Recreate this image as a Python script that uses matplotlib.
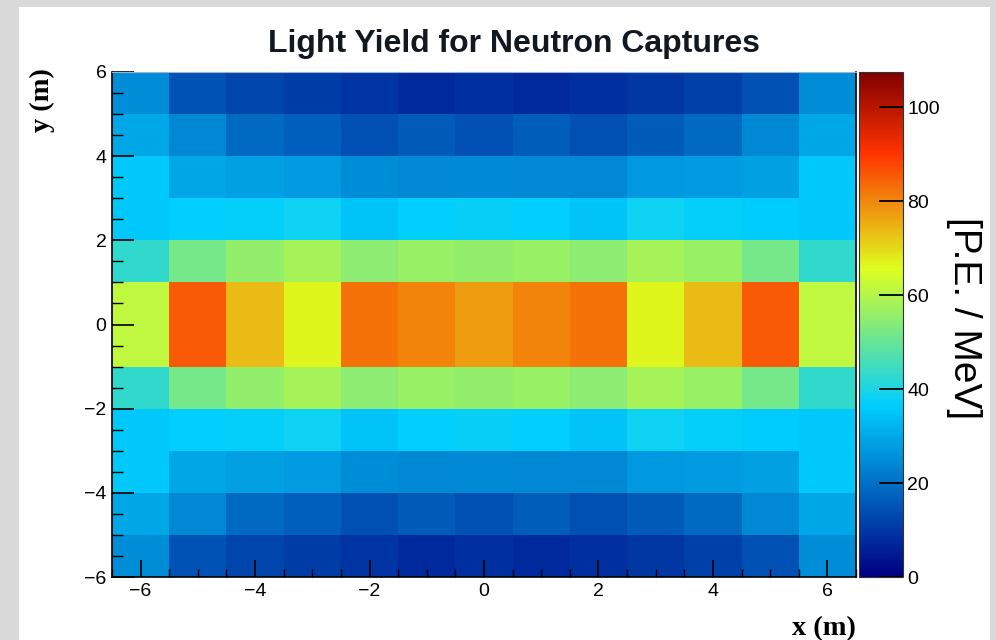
import numpy as np
import matplotlib
matplotlib.use("Agg")
import matplotlib.pyplot as plt
from matplotlib.colors import LinearSegmentedColormap
from matplotlib.patches import Rectangle
from matplotlib.ticker import MultipleLocator

# bin edges (m)
x_edges = [-6.5, -5.5, -4.5, -3.5, -2.5, -1.5, -0.5, 0.5, 1.5, 2.5, 3.5, 4.5, 5.5, 6.5]
y_edges = [6, 5, 4, 3, 2, 1, -1, -2, -3, -4, -5, -6]

# light yield [P.E. / MeV], rows from top (y=6) to bottom (y=-6)
row_5_6 = [25, 15, 12.5, 10.5, 9.5, 7.5, 8.5, 7.5, 8.5, 10, 11.5, 14.5, 25]
row_4_5 = [29.5, 24, 18.5, 17, 14, 16, 14.5, 16.5, 14, 16, 18.5, 24, 29.5]
row_3_4 = [35.5, 29.5, 28.5, 27.5, 25, 24, 24.5, 24, 24, 27, 27.5, 28.5, 35.5]
row_2_3 = [35.5, 36.8, 37, 38.5, 34.5, 36.8, 37.5, 36.8, 34.5, 38.5, 37, 36, 35.5]
row_1_2 = [43, 52, 55.5, 58, 55, 56.5, 55.5, 56.5, 55, 58, 56.5, 52, 43]
row_m1_1 = [61.5, 85.5, 73.5, 66.5, 82.5, 80.5, 77.5, 80.5, 82.5, 66.5, 73.5, 85.5, 61.5]
row_m2_m1 = [43, 52, 55.5, 58, 55, 56.5, 55.5, 56.5, 55, 58, 56.5, 52, 43]
row_m3_m2 = [35.5, 36.8, 37, 38.5, 34.5, 36.8, 37.5, 36.8, 34.5, 38.5, 37, 36, 35.5]
row_m4_m3 = [35.5, 29.5, 28.5, 27.5, 25, 24, 24.5, 24, 24, 27, 27.5, 28.5, 35.5]
row_m5_m4 = [29.5, 24, 18.5, 17, 14, 16, 14.5, 16.5, 14, 16, 18.5, 24, 29.5]
row_m6_m5 = [25, 15, 12.5, 10.5, 9.5, 7.5, 8.5, 7.5, 8.5, 10, 11.5, 14.5, 25]

z_max = 107.5
cbar_ticks = [0, 20, 40, 60, 80, 100]

rows = [row_5_6, row_4_5, row_3_4, row_2_3, row_1_2, row_m1_1,
        row_m2_m1, row_m3_m2, row_m4_m3, row_m5_m4, row_m6_m5]

# ROOT style gradient palette
stops = [0.00, 0.34, 0.61, 0.84, 1.00]
red = [0.00, 0.00, 0.87, 1.00, 0.51]
green = [0.00, 0.81, 1.00, 0.20, 0.00]
blue = [0.51, 1.00, 0.12, 0.00, 0.00]
cmap = LinearSegmentedColormap.from_list(
    "root", [(s, (r, g, b)) for s, r, g, b in zip(stops, red, green, blue)])

W, H = 996, 640
fig = plt.figure(figsize=(W / 100, H / 100), dpi=100, facecolor="#d9d9d9")
fig.patches.append(Rectangle((19 / W, 0), (990 - 19) / W, (H - 7) / H,
                             transform=fig.transFigure, facecolor="white",
                             edgecolor="none", zorder=-10))

ax = fig.add_axes([112 / W, 1 - 577 / H, (856 - 112) / W, (577 - 72) / H])
mesh = ax.pcolormesh(x_edges, y_edges, np.array(rows), cmap=cmap, vmin=0, vmax=z_max)
ax.set_xlim(-6.5, 6.5)
ax.set_ylim(-6, 6)

ax.xaxis.set_major_locator(MultipleLocator(2))
ax.xaxis.set_minor_locator(MultipleLocator(0.5))
ax.yaxis.set_major_locator(MultipleLocator(2))
ax.yaxis.set_minor_locator(MultipleLocator(0.5))
ax.tick_params(axis="x", which="major", direction="in", length=12, width=1.2,
               labelsize=14, pad=4, top=False)
ax.tick_params(axis="x", which="minor", direction="in", length=5.8, width=1.0, top=False)
ax.tick_params(axis="y", which="major", direction="in", length=15.5, width=1.2,
               labelsize=14, pad=4, right=False)
ax.tick_params(axis="y", which="minor", direction="in", length=8, width=1.0, right=False)
for lab in ax.get_xticklabels() + ax.get_yticklabels():
    lab.set_fontfamily("Liberation Sans")
for side in ["left", "bottom", "right"]:
    ax.spines[side].set_linewidth(1.2)
    ax.spines[side].set_color("black")
ax.spines["top"].set_linewidth(0.8)
ax.spines["top"].set_color("#9fb4cc")

cax = fig.add_axes([859 / W, 1 - 577 / H, 44 / W, (577 - 72) / H])
cb = fig.colorbar(mesh, cax=cax, ticks=cbar_ticks)
cb.outline.set_linewidth(0.8)
cb.outline.set_edgecolor("#333333")
cax.tick_params(direction="in", length=17, width=1.3, labelsize=14, pad=3)
cax.minorticks_off()
for lab in cax.get_yticklabels():
    lab.set_fontfamily("Liberation Sans")

fig.text(514 / W, 1 - 52 / H, "Light Yield for Neutron Captures", ha="center",
         va="baseline", fontsize=23, fontweight="bold", family="Liberation Sans",
         color="#111820")
fig.text(856 / W, 1 - 635 / H, "x (m)", ha="right", va="baseline", fontsize=20.5,
         fontweight="bold", family="Liberation Serif")
fig.text(42 / W, 1 - 68 / H, "y (m)", ha="center", va="top", rotation=90,
         fontsize=20.5, fontweight="bold", family="Liberation Serif")
fig.text(964 / W, 1 - 318 / H, "[P.E. / MeV]", ha="center", va="center",
         rotation=-90, fontsize=28, family="Liberation Sans")

fig.savefig("out.png", dpi=100, facecolor=fig.get_facecolor())
